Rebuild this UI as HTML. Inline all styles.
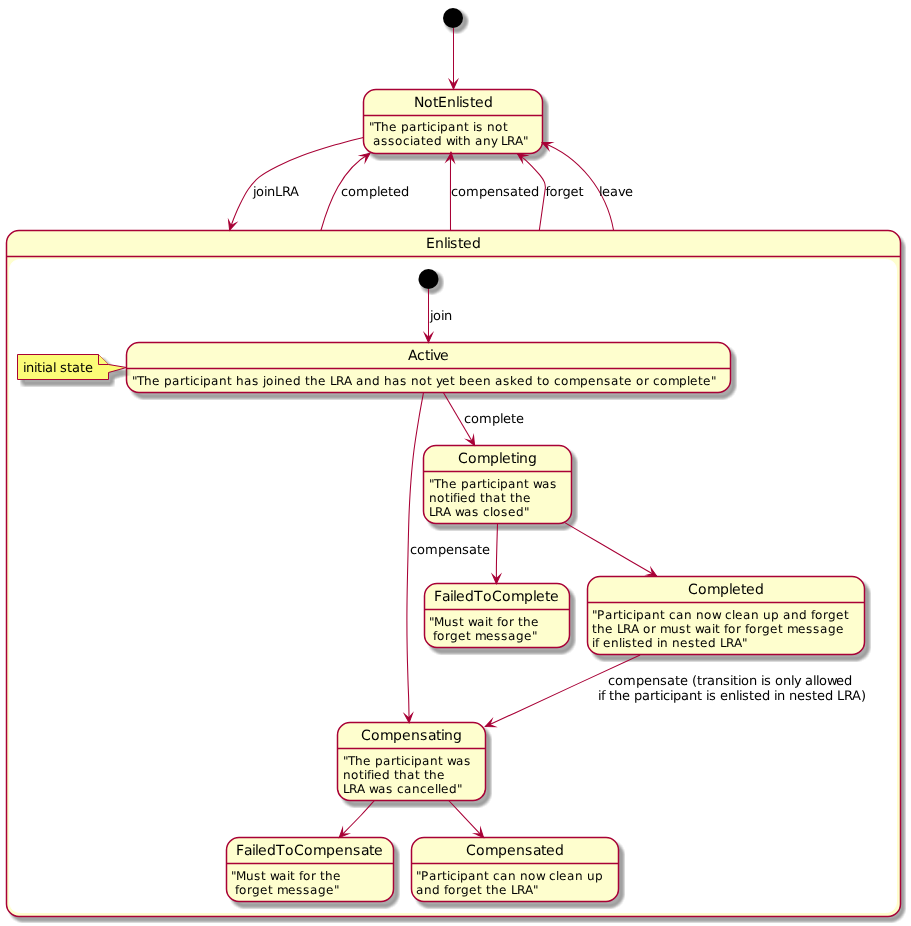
<!DOCTYPE html>
<html><head><meta charset="utf-8"><title>LRA participant state model</title>
<style>
html,body{margin:0;padding:0;background:#fff;}
body{width:911px;height:926px;overflow:hidden;}
svg{display:block;font-family:"DejaVu Sans","Liberation Sans",sans-serif;}
text{white-space:pre;fill:#000;font-kerning:none;text-rendering:geometricPrecision;}
.s{fill:#FEFECE;stroke:#A80036;stroke-width:1.5;}
.l15{stroke:#A80036;stroke-width:1.5;}
.a{fill:none;stroke:#A80036;stroke-width:1;}
.b{stroke-width:1.06;}
.h{fill:#A80036;stroke:#A80036;stroke-width:1.01;stroke-miterlimit:10;}
.n{fill:#FBFB77;stroke:#A80036;stroke-width:1;}
.t14{font-size:14px;}
.t13{font-size:13px;}
.t12{font-size:12px;}
.sd{fill:#000;stroke:none;filter:url(#sh);shape-rendering:crispEdges;}
</style></head>
<body>
<svg width="911" height="926" viewBox="0 0 911 926">
<defs>
<filter id="sh" x="-20%" y="-20%" width="140%" height="140%" color-interpolation-filters="sRGB">
<feConvolveMatrix in="SourceAlpha" order="6 1" kernelMatrix="1 1 1 1 1 1" divisor="6" targetX="3" targetY="0" edgeMode="none" preserveAlpha="false" result="h"/>
<feConvolveMatrix in="h" order="1 6" kernelMatrix="1 1 1 1 1 1" divisor="6" targetX="0" targetY="3" edgeMode="none" preserveAlpha="false" result="b"/>
<feColorMatrix in="b" type="matrix" values="0 0 0 .6667 0  0 0 0 .6667 0  0 0 0 .6667 0  0 0 0 1 0"/>
</filter>
</defs>
<g opacity="0.999">
<ellipse class="sd" cx="456" cy="21" rx="10" ry="10"/>
<ellipse cx="453" cy="18" rx="10" ry="10" fill="#000"/>
<rect class="sd" x="368" y="94" width="178" height="64" rx="12.5" ry="12.5"/>
<rect class="s" x="363.5" y="89.5" width="179" height="64" rx="12.5" ry="12.5"/>
<line class="l15" x1="363.5" x2="542.5" y1="115.5" y2="115.5"/>
<text class="t14" xml:space="preserve" x="414 424 433 438 447 456 459 462 470 475 484" y="107">NotEnlisted</text>
<text class="t12" xml:space="preserve" x="369 374 381 389 397 401 409 417 422 427 430 437 440 448 456 464 469 473 476 483 487 495 503" y="131">&quot;The participant is not</text>
<text class="t12" xml:space="preserve" x="369 373 381 388 395 403 410 413 421 426 434 442 446 455 458 463 471 475 483 491 497 501 507 515 523" y="145"> associated with any LRA&quot;</text>
<rect class="sd" x="10" y="235" width="893" height="685" rx="12.5" ry="12.5"/>
<rect class="s" x="6.5" y="230.5" width="894" height="686" rx="12.5" ry="12.5"/>
<rect x="9.5" y="259.5" width="887" height="653" rx="10" ry="10" fill="#fff" stroke="#fff" stroke-width="1"/>
<line class="l15" x1="6.5" x2="900.5" y1="256.5" y2="256.5"/>
<text class="t14" xml:space="preserve" x="426 435 444 447 450 458 463 472" y="248">Enlisted</text>
<ellipse class="sd" cx="431.5" cy="282" rx="10" ry="10"/>
<ellipse cx="428.5" cy="279" rx="10" ry="10" fill="#000"/>
<rect class="sd" x="131" y="347" width="603" height="50" rx="12.5" ry="12.5"/>
<rect class="s" x="126.5" y="342.5" width="604" height="50" rx="12.5" ry="12.5"/>
<line class="l15" x1="126.5" x2="730.5" y1="368.5" y2="368.5"/>
<text class="t14" xml:space="preserve" x="408 417 425 430 433 440" y="360">Active</text>
<text class="t12" xml:space="preserve" x="132 137 144 152 160 164 172 180 185 190 193 200 203 211 219 227 232 236 244 252 259 263 266 274 277 285 293 301 305 310 318 326 330 336 344 352 356 364 372 380 384 392 400 407 411 419 427 432 436 442 450 455 459 467 475 483 491 495 503 510 517 525 533 537 542 550 554 561 569 580 588 596 604 611 619 624 632 636 644 649 653 660 668 679 687 690 698 703 711" y="385">&quot;The participant has joined the LRA and has not yet been asked to compensate or complete&quot;</text>
<rect class="sd" x="428" y="450" width="147" height="78" rx="12.5" ry="12.5"/>
<rect class="s" x="423.5" y="445.5" width="148" height="78" rx="12.5" ry="12.5"/>
<line class="l15" x1="423.5" x2="571.5" y1="471.5" y2="471.5"/>
<text class="t14" xml:space="preserve" x="458 468 477 490 499 502 511 516 519 528" y="463">Completing</text>
<text class="t12" xml:space="preserve" x="429 434 441 449 457 461 469 477 482 487 490 497 500 508 516 524 529 533 542 550" y="488">&quot;The participant was</text>
<text class="t12" xml:space="preserve" x="429 437 445 450 453 457 460 468 476 480 485 493 501 506 510 515 523" y="502">notified that the</text>
<text class="t12" xml:space="preserve" x="429 435 443 451 455 464 472 479 483 490 493 501 508 516 524" y="516">LRA was closed&quot;</text>
<rect class="sd" x="429" y="588" width="144" height="64" rx="12.5" ry="12.5"/>
<rect class="s" x="424.5" y="583.5" width="145" height="64" rx="12.5" ry="12.5"/>
<line class="l15" x1="424.5" x2="569.5" y1="609.5" y2="609.5"/>
<text class="t14" xml:space="preserve" x="434 442 450 453 456 465 474 483 492 502 511 524 533 536 545 550" y="601">FailedToComplete</text>
<text class="t12" xml:space="preserve" x="429 434 444 452 459 464 468 477 485 488 493 497 501 509 514 518 523 531" y="626">&quot;Must wait for the</text>
<text class="t12" xml:space="preserve" x="429 433 437 445 450 458 466 471 475 486 494 501 508 516 524 532" y="640"> forget message&quot;</text>
<rect class="sd" x="592" y="581" width="276" height="78" rx="12.5" ry="12.5"/>
<rect class="s" x="587.5" y="576.5" width="277" height="78" rx="12.5" ry="12.5"/>
<line class="l15" x1="587.5" x2="864.5" y1="602.5" y2="602.5"/>
<text class="t14" xml:space="preserve" x="688 698 707 720 729 732 741 746 755" y="594">Completed</text>
<text class="t12" xml:space="preserve" x="592 597 605 613 618 623 626 633 636 644 652 660 665 669 676 684 692 696 704 712 721 725 732 735 743 751 759 763 771 779 783 791 799 807 811 815 823 828 836 844" y="619">&quot;Participant can now clean up and forget</text>
<text class="t12" xml:space="preserve" x="592 597 605 613 617 623 631 639 643 651 656 660 671 679 686 691 695 704 712 715 720 724 728 736 741 745 749 757 762 770 778 783 787 798 806 813 820 828 836" y="633">the LRA or must wait for forget message</text>
<text class="t12" xml:space="preserve" x="592 595 599 603 611 619 622 625 632 637 645 653 657 660 668 672 680 688 695 700 708 716 720 726 734 742" y="647">if enlisted in nested LRA&quot;</text>
<rect class="sd" x="342" y="727" width="147" height="78" rx="12.5" ry="12.5"/>
<rect class="s" x="337.5" y="722.5" width="148" height="78" rx="12.5" ry="12.5"/>
<line class="l15" x1="337.5" x2="485.5" y1="748.5" y2="748.5"/>
<text class="t14" xml:space="preserve" x="361 371 380 393 402 411 420 428 436 441 444 453" y="740">Compensating</text>
<text class="t12" xml:space="preserve" x="343 348 355 363 371 375 383 391 396 401 404 411 414 422 430 438 443 447 456 464" y="765">&quot;The participant was</text>
<text class="t12" xml:space="preserve" x="343 351 359 364 367 371 374 382 390 394 399 407 415 420 424 429 437" y="779">notified that the</text>
<text class="t12" xml:space="preserve" x="343 349 357 365 369 378 386 393 397 404 412 420 427 435 438 441 449 457" y="793">LRA was cancelled&quot;</text>
<rect class="sd" x="231" y="842" width="166" height="64" rx="12.5" ry="12.5"/>
<rect class="s" x="226.5" y="837.5" width="167" height="64" rx="12.5" ry="12.5"/>
<line class="l15" x1="226.5" x2="393.5" y1="863.5" y2="863.5"/>
<text class="t14" xml:space="preserve" x="236 244 252 255 258 267 276 285 294 304 313 326 335 344 353 361 369 374" y="855">FailedToCompensate</text>
<text class="t12" xml:space="preserve" x="231 236 246 254 261 266 270 279 287 290 295 299 303 311 316 320 325 333" y="880">&quot;Must wait for the</text>
<text class="t12" xml:space="preserve" x="231 235 239 247 252 260 268 273 277 288 296 303 310 318 326 334" y="894"> forget message&quot;</text>
<rect class="sd" x="416" y="842" width="206" height="64" rx="12.5" ry="12.5"/>
<rect class="s" x="411.5" y="837.5" width="207" height="64" rx="12.5" ry="12.5"/>
<line class="l15" x1="411.5" x2="618.5" y1="863.5" y2="863.5"/>
<text class="t14" xml:space="preserve" x="466 476 485 498 507 516 525 533 541 546 555" y="855">Compensated</text>
<text class="t12" xml:space="preserve" x="416 421 429 437 442 447 450 457 460 468 476 484 489 493 500 508 516 520 528 536 545 549 556 559 567 575 583 587 595" y="880">&quot;Participant can now clean up</text>
<text class="t12" xml:space="preserve" x="416 424 432 440 444 448 456 461 469 477 482 486 491 499 507 511 517 525 533" y="894">and forget the LRA&quot;</text>
<path class="sd" d="M22,359 L22,384 L112,384 L112,377 L130,372 L112,369 L102,359 Z"/>
<path class="n" d="M17.5,354.5 L17.5,379.5 L108.5,379.5 L108.5,372.5 L126.5,367.5 L108.5,364.5 L98.5,354.5 Z"/>
<path class="n" d="M98.5,354.5 L98.5,364.5 L108.5,364.5" fill="none"/>
<text class="t13" xml:space="preserve" x="23 26 34 37 42 45 53 56 60 67 72 80 85" y="372">initial state</text>
<path class="a" d="M453.50,28.00 L453.50,89.00"/>
<polygon class="h" points="453.50,89.00 457.50,80.00 453.50,84.00 449.50,80.00 453.50,89.00"/>
<path class="a b" d="M363.30,137.40 C358.63,138.63 345.47,141.78 335.30,144.80 C325.13,147.82 311.92,151.93 302.30,155.50 C292.68,159.07 284.73,162.63 277.60,166.20 C270.47,169.77 264.38,173.05 259.50,176.90 C254.62,180.75 251.67,184.50 248.30,189.30 C244.93,194.10 241.80,200.63 239.30,205.70 C236.80,210.77 234.92,215.62 233.30,219.70 C231.68,223.78 230.22,228.45 229.60,230.20"/>
<polygon class="h" points="229.60,230.20 236.19,222.88 231.15,225.44 228.58,220.40 229.60,230.20"/>
<text class="t13" xml:space="preserve" x="253 256 264 267 275 282 290" y="196">joinLRA</text>
<path class="a b" d="M320.90,230.50 C329.26,201.06 341.87,169.07 370.00,153.30"/>
<polygon class="h" points="370.00,153.30 360.41,155.52 366.01,156.31 365.22,161.91 370.00,153.30"/>
<text class="t13" xml:space="preserve" x="341 348 356 369 377 380 388 393 401" y="196">completed</text>
<path class="a b" d="M450.50,231.00 C450.50,219.17 450.38,173.03 450.50,160.00 C450.62,146.97 451.08,154.00 451.20,152.80"/>
<polygon class="h" points="451.20,152.80 446.28,161.33 450.68,157.77 454.24,162.17 451.20,152.80"/>
<text class="t13" xml:space="preserve" x="451 458 466 479 487 495 503 510 518 523 531" y="196">compensated</text>
<path class="a b" d="M539.30,230.50 L545.40,187.50 C545.23,186.60 545.25,184.07 544.40,182.10 C543.55,180.13 542.22,178.15 540.30,175.70 C538.38,173.25 535.35,170.00 532.90,167.40 C530.45,164.80 528.20,162.40 525.60,160.10 C523.00,157.80 518.68,154.68 517.30,153.60"/>
<polygon class="h" points="517.30,153.60 522.38,162.04 521.40,156.47 526.97,155.49 517.30,153.60"/>
<text class="t13" xml:space="preserve" x="545.5 549.5 557.5 562.5 570.5 578.5" y="196">forget</text>
<path class="a b" d="M613.60,230.50 C606.72,191.23 579.63,156.36 542.00,142.40"/>
<polygon class="h" points="542.00,142.40 548.59,149.71 546.57,144.43 551.85,142.41 542.00,142.40"/>
<text class="t13" xml:space="preserve" x="599 602 610 618 625" y="196">leave</text>
<path class="a" d="M428.50,289.00 L428.50,342.40"/>
<polygon class="h" points="428.50,342.40 432.50,333.40 428.50,337.40 424.50,333.40 428.50,342.40"/>
<text class="t13" xml:space="preserve" x="430 433 441 444" y="320">join</text>
<path class="a b" d="M443.50,392.70 L474.60,445.50"/>
<polygon class="h" points="474.60,445.50 473.56,435.71 472.10,441.17 466.64,439.71 474.60,445.50"/>
<text class="t13" xml:space="preserve" x="464 471 479 492 500 503 511 516" y="423">complete</text>
<path class="a b" d="M423.50,392.70 C422.80,396.53 420.88,406.15 419.30,415.70 C417.72,425.25 415.38,439.25 414.00,450.00 C412.62,460.75 411.80,470.12 411.00,480.20 C410.20,490.28 409.65,500.42 409.20,510.50 C408.75,520.58 408.50,533.40 408.30,540.70 C408.10,548.00 408.18,546.08 408.00,554.30 C407.82,562.52 407.38,579.02 407.20,590.00 C407.02,600.98 406.90,610.12 406.90,620.20 C406.90,630.28 407.02,640.42 407.20,650.50 C407.38,660.58 407.75,672.45 408.00,680.70 C408.25,688.95 408.52,692.98 408.70,700.00 C408.88,707.02 409.03,719.00 409.10,722.80"/>
<polygon class="h" points="409.10,722.80 412.46,713.54 408.75,717.81 404.48,714.10 409.10,722.80"/>
<text class="t13" xml:space="preserve" x="410 417 425 438 446 454 462 469 477 482" y="554">compensate</text>
<path class="a b" d="M497.50,523.80 C497.33,529.83 496.68,550.02 496.50,560.00 C496.32,569.98 496.42,579.75 496.40,583.70"/>
<polygon class="h" points="496.40,583.70 500.48,574.74 496.44,578.70 492.48,574.67 496.40,583.70"/>
<path class="a b" d="M565.20,522.90 C576.00,529.20 614.73,551.80 630.00,560.70 C645.27,569.60 652.33,573.70 656.80,576.30"/>
<polygon class="h" points="656.80,576.30 651.08,568.29 652.49,573.76 647.02,575.18 656.80,576.30"/>
<path class="a b" d="M640.10,654.90 C619.25,664.57 540.80,700.95 515.00,712.90 C489.20,724.85 490.25,724.32 485.30,726.60"/>
<polygon class="h" points="485.30,726.60 495.15,726.68 489.89,724.61 491.96,719.34 485.30,726.60"/>
<text class="t13" xml:space="preserve" x="608 615 623 636 644 652 660 667 675 680 688 692 697 702 707 715 723 730 733 738 741 749 757 761 764 771 775 783 791 794 801 805 813 816 819 827 836 844" y="685">compensate (transition is only allowed</text>
<text class="t13" xml:space="preserve" x="598 601 605 609 614 622 630 634 642 650 655 660 663 670 673 681 689 697 702 706 709 716 720 728 736 739 742 749 754 762 770 774 777 785 789 797 805 812 817 825 833 837 844 852 861" y="700">if the participant is enlisted in nested LRA)</text>
<path class="a b" d="M374.40,800.50 C372.22,802.92 367.17,808.82 361.30,815.00 C355.43,821.18 342.88,833.83 339.20,837.60"/>
<polygon class="h" points="339.20,837.60 348.33,833.90 342.67,834.00 342.57,828.35 339.20,837.60"/>
<path class="a b" d="M448.70,800.50 C451.42,803.38 459.18,811.60 465.00,817.80 C470.82,824.00 480.50,834.38 483.60,837.70"/>
<polygon class="h" points="483.60,837.70 480.55,828.34 480.25,833.98 474.61,833.69 483.60,837.70"/>
</g>
</svg>
</body></html>
